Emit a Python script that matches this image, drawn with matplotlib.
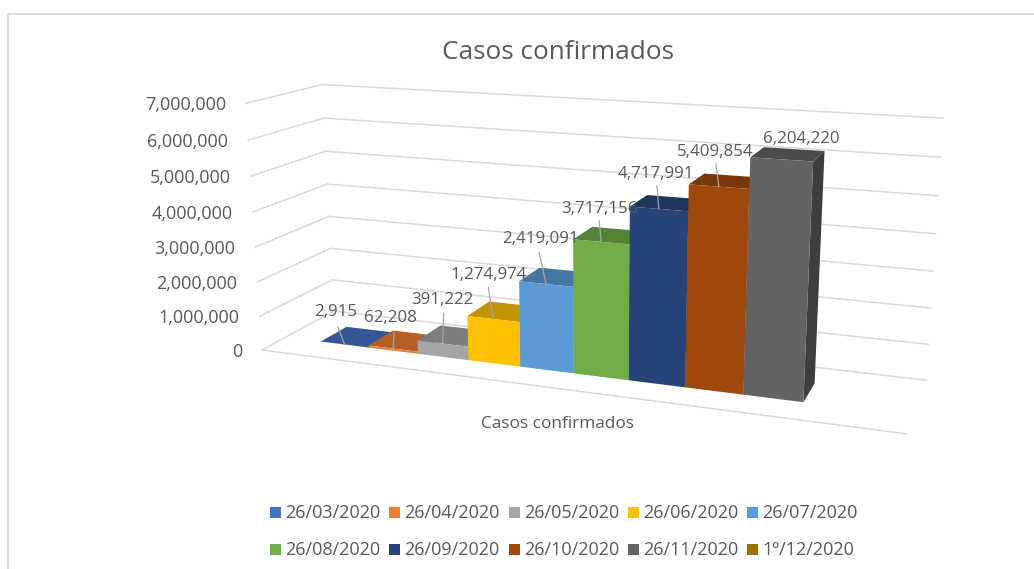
import numpy as np
import matplotlib
matplotlib.use("Agg")
from matplotlib import pyplot as plt
from matplotlib.patches import Polygon, Rectangle

# Casos confirmados - Excel style 3D column chart, drawn through a fitted perspective camera

dates = ["26/03/2020", "26/04/2020", "26/05/2020", "26/06/2020", "26/07/2020",
         "26/08/2020", "26/09/2020", "26/10/2020", "26/11/2020", "1º/12/2020"]
values = [2915, 62208, 391222, 1274974, 2419091, 3717156, 4717991, 5409854, 6204220, None]
axis_ticks = [0, 1000000, 2000000, 3000000, 4000000, 5000000, 6000000, 7000000]
colors = ["#4472C4", "#ED7D31", "#A5A5A5", "#FFC000", "#5B9BD5",
          "#70AD47", "#264478", "#9E480E", "#636363", "#997300"]

YMAX = 7000000
TEXT = "#595959"
GRID = "#D9D9D9"
W, H = 1034, 569

# wall corners in pixels: (across, height, depth) -> (x, y)
corners = [
    ((0, 0, 0), (262, 351)), ((0, 1, 0), (246, 103)),
    ((0, 0, 1), (334, 310)), ((0, 1, 1), (322, 85)),
    ((1, 0, 1), (926, 381)), ((1, 1, 1), (943, 118)),
    ((1, 0, 0), (906, 433)),
]

rows, rhs = [], []
for (u, v, d), (x, y) in corners:
    rows.append([u, v, d, 1, 0, 0, 0, 0, -x * u, -x * v, -x * d])
    rows.append([0, 0, 0, 0, u, v, d, 1, -y * u, -y * v, -y * d])
    rhs += [x, y]
cam = np.append(np.linalg.lstsq(np.array(rows, float), np.array(rhs, float), rcond=None)[0], 1).reshape(3, 4)


def proj(u, val, d):
    p = cam @ np.array([u, val / YMAX, d, 1.0])
    return p[0] / p[2], p[1] / p[2]


def shade(col, f):
    r, g, b = matplotlib.colors.to_rgb(col)
    return (r * f, g * f, b * f)


fig = plt.figure(figsize=(W / 100, H / 100), dpi=100)
ax = fig.add_axes([0, 0, 1, 1])
ax.set_xlim(0, W)
ax.set_ylim(H, 0)
ax.axis("off")
plt.rcParams["font.family"] = "Open Sans"

# chart border, cut by the edge of the screenshot
ax.plot([7.5, 7.5, W], [H, 13.5, 13.5], color=GRID, lw=1.3)

# gridlines
for t in axis_ticks:
    pts = [proj(0, t, 0), proj(0, t, 1), proj(1, t, 1)]
    ax.plot(*zip(*pts), color=GRID, lw=1.1, solid_joinstyle="miter", zorder=1)
    x, y = pts[0]
    ax.text(x - 20, y + 2, f"{t:,}", ha="right", va="center", color=TEXT, fontsize=13)
ax.plot(*zip(proj(0, 0, 0), proj(1, 0, 0)), color=GRID, lw=1.1, zorder=1)

# columns, left to right so each one covers the side of the previous
gap = 0.75
bw = 1 / (10 + 2 * gap)
d0, d1 = 0.31, 0.68

# label centre and leader start, relative to the middle of the column's front top edge
label_off = [(-9, -34), (-3, -33), (0, -46), (-5, -46), (-6, -47), (-2, -35), (-3, -37), (-4, -37), (20, -22)]
leader_off = [(-7, -18), (1, -17), (1, -30), (-5, -31), (-7, -32), (-2, -21), (-2, -23), (-3, -23), None]

for i, val in enumerate(values):
    if val is None:
        continue
    u0 = (gap + i) * bw
    u1 = u0 + bw
    col = colors[i]
    side = [proj(u1, 0, d0), proj(u1, 0, d1), proj(u1, val, d1), proj(u1, val, d0)]
    top = [proj(u0, val, d0), proj(u1, val, d0), proj(u1, val, d1), proj(u0, val, d1)]
    front = [proj(u0, 0, d0), proj(u1, 0, d0), proj(u1, val, d0), proj(u0, val, d0)]
    z = 3 + i * 0.1
    ax.add_patch(Polygon(side, fc=shade(col, 0.63), ec="none", zorder=z))
    ax.add_patch(Polygon(top, fc=shade(col, 0.76), ec="none", zorder=z))
    ax.add_patch(Polygon(front, fc=col, ec="none", zorder=z))

    cx, cy = proj((u0 + u1) / 2, val, d0)
    lx, ly = label_off[i]
    ax.text(cx + lx, cy + ly + 2, f"{val:,}", ha="center", va="center", color=TEXT, fontsize=12.2, zorder=6)
    if leader_off[i] is not None:
        sx, sy = leader_off[i]
        ax.plot([cx + sx, cx], [cy + sy, cy], color="#A6A6A6", lw=0.9, zorder=5)

ax.text(557.5, 424, "Casos confirmados", ha="center", va="center", color=TEXT, fontsize=12.4)
ax.text(558, 52, "Casos confirmados", ha="center", va="center", color=TEXT, fontsize=18.8)

# legend, two rows of five
leg_x = [270, 389, 509, 628, 747]
leg_y = [512, 549]
for i, (name, col) in enumerate(zip(dates, colors)):
    x = leg_x[i % 5]
    y = leg_y[i // 5]
    ax.add_patch(Rectangle((x, y - 5), 10.5, 10.5, fc=col, ec="none"))
    ax.text(x + 15.5, y + 1, name, ha="left", va="center", color=TEXT, fontsize=13)

fig.savefig("out.png", dpi=100)
